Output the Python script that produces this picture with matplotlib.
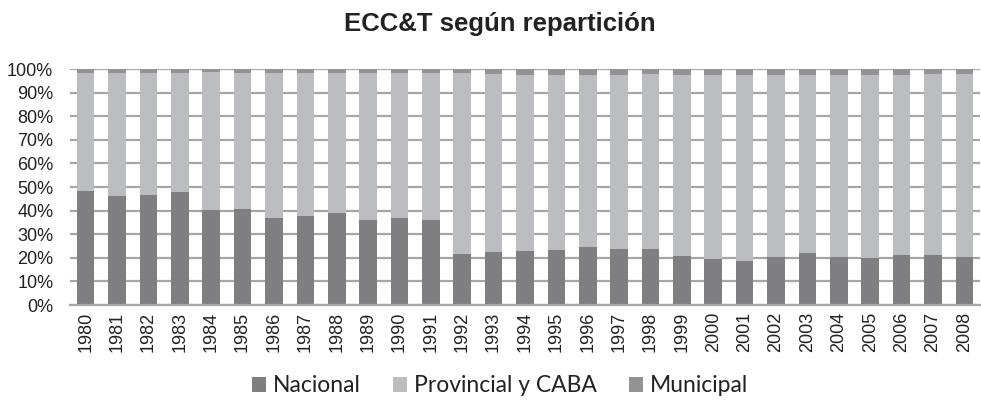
import matplotlib
matplotlib.use("Agg")
import matplotlib.pyplot as plt
import numpy as np

plt.rcParams["font.family"] = ["Liberation Sans", "DejaVu Sans"]

years = [str(y) for y in range(1980, 2009)]
nacional = [48.3, 46.2, 46.6, 47.9, 40.3, 40.7, 36.7, 37.6, 39.0, 36.0, 36.9, 36.0,
            21.6, 22.5, 22.9, 23.3, 24.4, 23.7, 23.9, 20.8, 19.6, 18.6, 20.3, 22.0,
            20.3, 20.1, 21.2, 21.2, 20.3]
municipal = [1.8, 1.8, 1.5, 1.5, 1.2, 1.5, 1.5, 1.5, 1.5, 1.5, 1.8, 1.8,
             1.8, 2.2, 2.5, 2.5, 2.5, 2.5, 2.1, 2.5, 2.5, 2.5, 2.5, 2.5,
             2.5, 2.5, 2.5, 2.1, 2.1]
provincial = [100 - n - m for n, m in zip(nacional, municipal)]

series_names = ["Nacional", "Provincial y CABA", "Municipal"]
colors = ["#7f7f82", "#bcbdc0", "#939396"]

fig = plt.figure(figsize=(9.81, 4.12), dpi=100)
ax = fig.add_axes([70/981, 1 - 305/412, 910/981, 236/412])

x = np.arange(len(years))
w = 0.56
b1 = ax.bar(x, nacional, w, color=colors[0], label=series_names[0], zorder=2)
b2 = ax.bar(x, provincial, w, bottom=nacional, color=colors[1], label=series_names[1], zorder=2)
bot3 = [n + p for n, p in zip(nacional, provincial)]
b3 = ax.bar(x, municipal, w, bottom=bot3, color=colors[2], label=series_names[2], zorder=2)

ax.set_xlim(-0.5, len(years) - 0.5)
ax.set_ylim(0, 100)
ax.set_yticks(range(0, 101, 10))
ax.set_yticklabels([f"{v}%" for v in range(0, 101, 10)], fontsize=13, color="#222222")
ax.set_xticks(x)
ax.set_xticklabels(years, rotation=90, fontsize=13, color="#222222")
ax.tick_params(axis="y", length=0, pad=12)
ax.tick_params(axis="x", length=0, pad=5)
ax.yaxis.grid(True, color="#a6a6a6", linewidth=1.6, zorder=0)
ax.set_axisbelow(True)
for s in ["top", "right", "left"]:
    ax.spines[s].set_visible(False)
ax.spines["bottom"].set_color("#a6a6a6")
ax.spines["bottom"].set_linewidth(1.6)

fig.text(500/981, 1 - 24/412, "ECC&T según repartición", ha="center", va="center",
         fontweight="bold", fontsize=18.5, color="#222222")

leg = fig.legend(handles=[b1, b2, b3], labels=series_names, loc="center",
                 bbox_to_anchor=(500/981, 1 - 386/412), ncol=3, frameon=False,
                 prop={"family": "Lato", "size": 16.5}, handlelength=0.62, handleheight=0.62,
                 handletextpad=0.3, columnspacing=1.4)
for t in leg.get_texts():
    t.set_color("#222222")

fig.savefig("out.png", dpi=100)
